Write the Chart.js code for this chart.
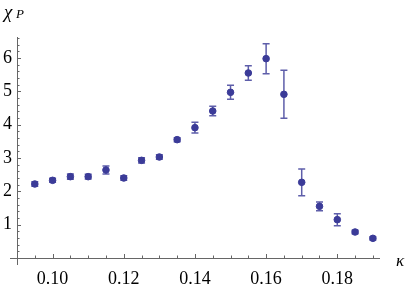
<!DOCTYPE html>
<html>
<head>
<meta charset="utf-8">
<script src="https://cdn.jsdelivr.net/npm/chart.js@4/dist/chart.umd.min.js"></script>
<style>
  html, body { margin: 0; padding: 0; background: #fff; }
  #wrap { width: 407px; height: 286px; }
</style>
</head>
<body>
<div id="wrap"><canvas id="chart" width="407" height="286"></canvas></div>
<script>
// hopping parameter kappa and the measured chi_P with its error
const kappa  = [0.095, 0.100, 0.105, 0.110, 0.115, 0.120, 0.125, 0.130, 0.135, 0.140,
                0.145, 0.150, 0.155, 0.160, 0.165, 0.170, 0.175, 0.180, 0.185, 0.190];
const chiP   = [2.22, 2.33, 2.44, 2.44, 2.64, 2.40, 2.93, 3.03, 3.55, 3.91,
                4.41, 4.97, 5.55, 5.98, 4.91, 2.27, 1.55, 1.15, 0.78, 0.59];
const chiErr = [0.07, 0.06, 0.08, 0.07, 0.12, 0.07, 0.08, 0.07, 0.06, 0.16,
                0.14, 0.21, 0.22, 0.45, 0.72, 0.40, 0.13, 0.18, 0.05, 0.05];

const xTickValues = [0.10, 0.12, 0.14, 0.16, 0.18];
const yTickValues = [1, 2, 3, 4, 5, 6];

const pointColor = '#3b3b98';
const barColor = '#5e5eaa';
const axisColor = '#666';
const serif = '"Liberation Serif", "DejaVu Serif", serif';

// error bars, drawn below the points
const errorBars = {
    id: 'errorBars',
    beforeDatasetsDraw(chart) {
        const ctx = chart.ctx;
        const xs = chart.scales.x, ys = chart.scales.y;
        ctx.save();
        ctx.strokeStyle = barColor;
        ctx.lineWidth = 1.5;
        kappa.forEach((k, i) => {
            const px = xs.getPixelForValue(k);
            const top = ys.getPixelForValue(chiP[i] + chiErr[i]);
            const bot = ys.getPixelForValue(chiP[i] - chiErr[i]);
            ctx.beginPath();
            ctx.moveTo(px, top); ctx.lineTo(px, bot);
            ctx.moveTo(px - 3.5, top); ctx.lineTo(px + 3.5, top);
            ctx.moveTo(px - 3.5, bot); ctx.lineTo(px + 3.5, bot);
            ctx.stroke();
        });
        ctx.restore();
    }
};

// Mathematica-like axes: lines crossing, ticks pointing inwards, axis labels
const frameAxes = {
    id: 'frameAxes',
    beforeDatasetsDraw(chart) {
        const ctx = chart.ctx;
        const xs = chart.scales.x, ys = chart.scales.y;
        const x0 = xs.getPixelForValue(xs.min);
        const y0 = ys.getPixelForValue(0);
        ctx.save();
        ctx.strokeStyle = axisColor;
        ctx.lineWidth = 1;
        ctx.beginPath();
        ctx.moveTo(x0 - 7, y0 + 0.5); ctx.lineTo(xs.right, y0 + 0.5);
        ctx.moveTo(x0 + 0.5, ys.top); ctx.lineTo(x0 + 0.5, y0 + 7);
        // x ticks every 0.005
        for (let i = 0; i <= 20; i++) {
            const v = 0.09 + i * 0.005;
            const px = Math.round(xs.getPixelForValue(v)) + 0.5;
            const major = xTickValues.some(t => Math.abs(t - v) < 1e-9);
            ctx.moveTo(px, y0); ctx.lineTo(px, y0 - (major ? 4 : 2.5));
        }
        // y ticks every 0.2
        for (let i = 1; i <= 33; i++) {
            const v = i * 0.2;
            const py = Math.round(ys.getPixelForValue(v)) + 0.5;
            const major = yTickValues.some(t => Math.abs(t - v) < 1e-9);
            ctx.moveTo(x0, py); ctx.lineTo(x0 + (major ? 4 : 2.5), py);
        }
        ctx.stroke();

        ctx.fillStyle = '#000';
        ctx.textBaseline = 'alphabetic';
        ctx.font = 'italic 19px ' + serif;
        ctx.fillText('\u03C7', 4, 18);
        ctx.font = 'italic 13px ' + serif;
        ctx.fillText('P', 16, 18);
        ctx.font = 'italic 17px ' + serif;
        ctx.fillText('\u03BA', 396, 266);
        ctx.restore();
    }
};

new Chart(document.getElementById('chart'), {
    type: 'scatter',
    data: {
        datasets: [{
            data: kappa.map((k, i) => ({ x: k, y: chiP[i] })),
            backgroundColor: pointColor,
            borderColor: pointColor,
            pointRadius: 3.3,
            pointHoverRadius: 3.3
        }]
    },
    options: {
        responsive: false,
        animation: false,
        layout: { padding: { top: 37, right: 27, left: 0, bottom: 0 } },
        plugins: { legend: { display: false }, tooltip: { enabled: false } },
        scales: {
            x: {
                type: 'linear',
                min: 0.09,
                max: 0.192,
                grid: { display: false, drawTicks: false },
                border: { display: false },
                afterFit: s => { s.height = 28; },
                afterBuildTicks: s => { s.ticks = xTickValues.map(v => ({ value: v })); },
                ticks: {
                    padding: 10,
                    maxRotation: 0,
                    color: '#000',
                    font: { family: serif, size: 18 },
                    callback: v => v.toFixed(2)
                }
            },
            y: {
                min: 0,
                max: 6.63,
                grid: { display: false, drawTicks: false },
                border: { display: false },
                afterFit: s => { s.width = 17; },
                afterBuildTicks: s => { s.ticks = yTickValues.map(v => ({ value: v })); },
                ticks: {
                    padding: 5,
                    color: '#000',
                    font: { family: serif, size: 18 }
                }
            }
        }
    },
    plugins: [frameAxes, errorBars]
});
</script>
</body>
</html>
